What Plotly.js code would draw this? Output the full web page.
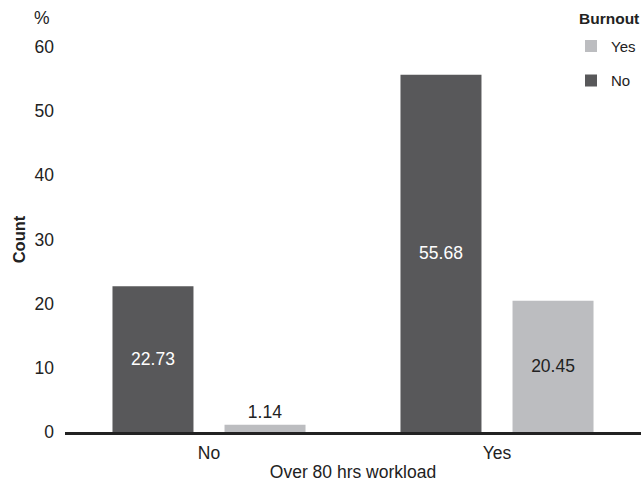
<!DOCTYPE html>
<html>
<head>
<meta charset="utf-8">
<script src="https://cdn.plot.ly/plotly-3.0.1.min.js"></script>
<style>html,body{margin:0;padding:0;background:#fff;}#chart{width:641px;height:483px;}</style>
</head>
<body>
<div id="chart"></div>
<script>
var categories = ["No", "Yes"];
var burnoutNo = [22.73, 55.68];
var burnoutYes = [1.14, 20.45];
var yTicks = [0, 10, 20, 30, 40, 50, 60];

var FONT = "Liberation Sans, Arial, sans-serif";
var FS = 17.5;
var traces = [
  {
    type: "bar", name: "No", x: categories, y: burnoutNo, legendgroup: "no", legendrank: 2,
    marker: {color: "#58585a"},
    text: burnoutNo.map(function(v){return v.toFixed(2);}),
    textposition: "inside", insidetextanchor: "middle",
    insidetextfont: {color: "#ffffff", size: FS, family: FONT},
    hoverinfo: "none"
  },
  {
    type: "bar", name: "Yes", x: categories, y: burnoutYes, legendgroup: "yes", legendrank: 1,
    marker: {color: "#bcbdc0"},
    text: burnoutYes.map(function(v){return v.toFixed(2);}),
    textposition: "auto", insidetextanchor: "middle",
    insidetextfont: {color: "#222222", size: FS, family: FONT},
    outsidetextfont: {color: "#222222", size: FS, family: FONT},
    cliponaxis: false,
    hoverinfo: "none"
  }
];

var layout = {
  width: 641, height: 483,
  margin: {l: 65, r: 0, t: 47, b: 51, pad: 0},
  paper_bgcolor: "#ffffff", plot_bgcolor: "#ffffff",
  font: {family: FONT, size: FS, color: "#222222"},
  barmode: "group",
  bargap: 0.222,
  bargroupgap: 0.277,
  showlegend: true,
  legend: {
    x: 1.0, xanchor: "right", y: 1.045, yanchor: "top",
    traceorder: "grouped",
    tracegroupgap: 12,
    font: {size: 15, family: FONT, color: "#222222"},
    itemwidth: 30,
    bgcolor: "rgba(0,0,0,0)"
  },
  xaxis: {
    type: "category",
    range: [-0.5, 1.5],
    showline: true, linecolor: "#222222", linewidth: 2.5,
    ticks: "", showgrid: false, zeroline: false,
    ticklabelstandoff: 3,
    tickfont: {size: FS, family: FONT, color: "#222222"},
    title: {text: "Over 80 hrs workload", font: {size: FS, family: FONT, color: "#222222"}, standoff: 4}
  },
  yaxis: {
    range: [0, 60],
    tickvals: yTicks,
    ticktext: yTicks.map(String),
    showline: false, showgrid: false, zeroline: false,
    ticks: "", ticklen: 0,
    ticklabelstandoff: 10,
    tickfont: {size: FS, family: FONT, color: "#222222"},
    title: {text: "<b>Count</b>", font: {size: 16.5, family: FONT, color: "#222222"}, standoff: 4}
  },
  annotations: [
    {xref: "paper", yref: "paper", x: -0.022, y: 1.075, xanchor: "right", yanchor: "middle",
     text: "%", showarrow: false, font: {size: FS, family: FONT, color: "#222222"}},
    {xref: "paper", yref: "paper", x: 1.0, y: 1.075, xanchor: "right", yanchor: "middle",
     text: "<b>Burnout</b>", showarrow: false, font: {size: 15.5, family: FONT, color: "#222222"}}
  ]
};

Plotly.newPlot("chart", traces, layout, {displayModeBar: false, staticPlot: true});
</script>
</body>
</html>
